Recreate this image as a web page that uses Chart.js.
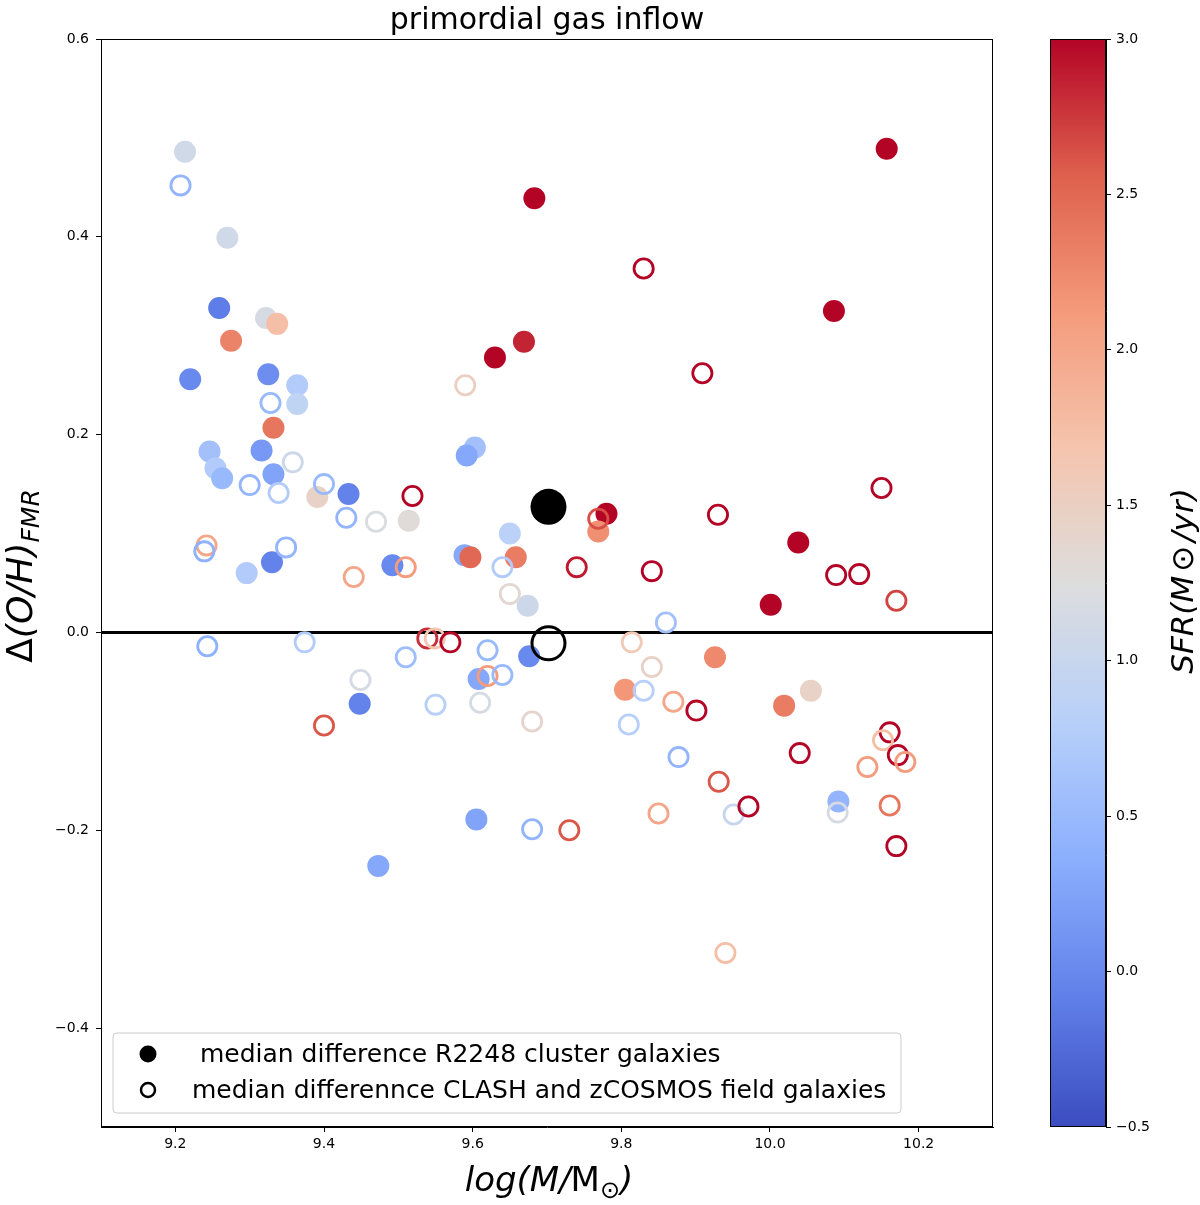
<!DOCTYPE html>
<html><head><meta charset="utf-8">
<script src="https://cdn.jsdelivr.net/npm/chart.js@4.4.1/dist/chart.umd.min.js"></script>
<style>
html,body{margin:0;padding:0;background:#fff;overflow:hidden;width:1200px;height:1205px}
#main{position:absolute;left:0;top:0}
#cbar{position:absolute;left:1000px;top:0}
</style></head><body>
<canvas id="main" width="1200" height="1205"></canvas>
<canvas id="cbar" width="200" height="1205"></canvas>
<script>
// ---- data ----
const clusterMass  = [9.213,9.270,9.259,9.322,9.337,9.275,9.220,9.325,9.364,9.364,9.332,9.316,9.246,9.254,9.263,9.332,9.391,9.433,9.514,9.296,9.330,9.492,9.589,9.597,9.603,9.592,9.650,9.658,9.674,9.676,9.608,9.683,9.630,9.669,9.780,9.769,9.448,9.605,9.473,10.157,10.086,10.038,10.001,9.805,9.926,10.055,10.019,10.092];
const clusterDelta = [0.486,0.399,0.328,0.318,0.312,0.295,0.256,0.261,0.250,0.231,0.207,0.184,0.183,0.166,0.156,0.160,0.137,0.140,0.113,0.060,0.071,0.068,0.078,0.076,0.187,0.179,0.100,0.076,0.027,-0.024,-0.047,0.439,0.278,0.294,0.120,0.102,-0.072,-0.189,-0.236,0.489,0.325,0.091,0.028,-0.058,-0.025,-0.059,-0.074,-0.171];
const clusterSFR   = [1.1,1.1,-0.1,1.15,1.75,2.3,0.0,0.05,0.75,0.9,2.4,0.15,0.6,0.75,0.5,0.25,1.45,-0.05,1.3,0.75,-0.05,0.0,0.3,2.5,0.6,0.3,0.85,2.35,1.05,0.0,0.3,3.0,3.0,2.85,3.0,2.2,-0.05,0.25,0.3,3.0,3.0,3.0,3.0,2.15,2.25,1.45,2.35,0.45];

const fieldMass  = [9.207,9.328,9.358,9.300,9.339,9.400,9.430,9.470,9.242,9.239,9.349,9.440,9.243,9.374,9.449,9.400,9.519,9.510,9.590,9.640,9.650,9.769,9.740,9.841,9.860,9.539,9.549,9.570,9.510,9.620,9.814,9.841,9.620,9.640,9.550,9.610,9.680,9.830,9.810,9.870,9.877,9.680,9.730,9.850,9.901,10.040,9.931,10.131,10.091,9.951,9.971,10.161,10.152,10.172,10.182,10.161,10.170,9.940,9.830,9.909,10.150,9.930,10.089,10.120,10.170];
const fieldDelta = [0.452,0.232,0.172,0.149,0.141,0.150,0.116,0.112,0.088,0.082,0.086,0.056,-0.014,-0.010,-0.048,-0.094,0.138,0.066,0.250,0.066,0.039,0.115,0.066,0.062,0.010,-0.006,-0.006,-0.010,-0.025,-0.018,-0.010,-0.035,-0.044,-0.043,-0.073,-0.071,-0.090,-0.059,-0.093,-0.070,-0.126,-0.199,-0.200,-0.183,-0.079,-0.122,-0.151,-0.136,-0.182,-0.184,-0.176,-0.101,-0.109,-0.124,-0.131,-0.175,-0.216,-0.324,0.368,0.262,0.146,0.119,0.058,0.059,0.032];
const fieldSFR   = [0.45,0.5,1.05,0.45,0.75,0.5,0.45,1.2,2.0,0.4,0.45,2.0,0.4,0.75,1.15,2.6,3.0,2.1,1.5,0.75,1.35,2.65,2.9,3.0,0.6,2.8,1.65,3.0,0.55,0.5,1.6,1.45,2.1,0.5,0.8,1.15,1.4,0.8,0.8,2.0,0.45,0.45,2.6,2.0,3.0,3.0,2.6,2.1,1.15,1.0,3.0,3.0,1.75,3.0,2.1,2.4,3.0,1.75,3.0,3.0,3.0,3.0,3.0,3.0,2.7];

const medianMass    = [9.702];
const medianCluster = [0.127];
const medianField   = [-0.011];
const zeroLineX     = [9.1, 10.3];

const xTicks  = [9.2, 9.4, 9.6, 9.8, 10.0, 10.2];
const yTicks  = [-0.4, -0.2, 0.0, 0.2, 0.4, 0.6];
const cbTicks = [-0.5, 0.0, 0.5, 1.0, 1.5, 2.0, 2.5, 3.0];
const xRange  = [9.1, 10.3];
const yRange  = [-0.5, 0.6];
const sfrRange = [-0.5, 3.0];

const titleText = 'primordial gas inflow';
const legendLabels = [' median difference R2248 cluster galaxies', 'median differennce CLASH and zCOSMOS field galaxies'];

// ---- coolwarm colormap ----
const cwStops = [[59,76,192],[98,130,234],[141,176,254],[184,208,249],[221,221,221],[245,196,173],[244,154,123],[222,96,77],[180,4,38]];
function coolwarm(t){
  t = Math.max(0, Math.min(1, t));
  const p = t*(cwStops.length-1); const i = Math.min(Math.floor(p), cwStops.length-2); const f = p-i;
  const a = cwStops[i], b = cwStops[i+1];
  return 'rgb(' + a.map((v,k)=>Math.round(v+(b[k]-v)*f)).join(',') + ')';
}
const sfrColor = s => coolwarm((s-sfrRange[0])/(sfrRange[1]-sfrRange[0]));
const fmt = v => (v < 0 ? '\u2212' : '') + Math.abs(v).toFixed(1);
const zip = (xs, ys) => xs.map((x,i)=>({x:x, y:ys[i]}));

const FONT = '"DejaVu Sans", sans-serif';
Chart.defaults.font.family = FONT;
Chart.defaults.color = '#000';

function axisCommon(min, max, ticks){
  return {
    type:'linear', min:min, max:max,
    afterBuildTicks: s => { s.ticks = ticks.map(v=>({value:v})); },
    ticks:{ font:{size:14, family:FONT}, color:'#000', callback: v => fmt(v), autoSkip:false, maxRotation:0 },
    grid:{ display:true, drawOnChartArea:false, drawTicks:true, tickLength:5, color:'#000', lineWidth:1 },
    border:{ display:true, color:'#000', width:1 }
  };
}

const frame = {
  id:'frame',
  afterDraw(chart){
    const {ctx, chartArea:a} = chart;
    ctx.save();
    ctx.strokeStyle = '#000'; ctx.lineWidth = 1;
    ctx.strokeRect(a.left+0.5, a.top+0.5, a.right-a.left-1, a.bottom-a.top-1);
    ctx.restore();
  }
};

function drawParts(ctx, parts, cx, baseY){
  let w = 0;
  parts.forEach(p=>{ ctx.font=p.f; p.w = ctx.measureText(p.t).width + (p.gap||0)*2; w += p.w; });
  let x = cx - w/2;
  ctx.textAlign='left'; ctx.textBaseline='alphabetic';
  parts.forEach(p=>{ ctx.font=p.f; ctx.fillText(p.t, x + (p.gap||0), baseY + p.dy); x += p.w; });
}

const texts = {
  id:'texts',
  afterDraw(chart){
    const {ctx, chartArea:a} = chart;
    ctx.save();
    ctx.fillStyle = '#000';
    // title
    ctx.font = '30px ' + FONT; ctx.textAlign = 'center'; ctx.textBaseline = 'alphabetic';
    ctx.fillText(titleText, (a.left+a.right)/2, 29);
    // x label: log(M/M_sun)
    drawParts(ctx, [
      {t:'log(M/', f:'italic 34px '+FONT, dy:0},
      {t:'M', f:'34px '+FONT, dy:0},
      {t:'\u2299', f:'24px '+FONT, dy:7},
      {t:')', f:'italic 34px '+FONT, dy:0}
    ], 549, 1191);
    // y label rotated
    ctx.save();
    ctx.translate(32, 576); ctx.rotate(-Math.PI/2);
    drawParts(ctx, [
      {t:'\u0394', f:'36px '+FONT, dy:0},
      {t:'(O/H)', f:'italic 36px '+FONT, dy:0},
      {t:'FMR', f:'italic 25px '+FONT, dy:7}
    ], 0, 0);
    ctx.restore();
    // legend
    const lx=113, ly=1033, lw=788, lh=80, r=4;
    ctx.beginPath();
    ctx.moveTo(lx+r,ly); ctx.lineTo(lx+lw-r,ly); ctx.quadraticCurveTo(lx+lw,ly,lx+lw,ly+r);
    ctx.lineTo(lx+lw,ly+lh-r); ctx.quadraticCurveTo(lx+lw,ly+lh,lx+lw-r,ly+lh);
    ctx.lineTo(lx+r,ly+lh); ctx.quadraticCurveTo(lx,ly+lh,lx,ly+lh-r);
    ctx.lineTo(lx,ly+r); ctx.quadraticCurveTo(lx,ly,lx+r,ly); ctx.closePath();
    ctx.fillStyle='rgba(255,255,255,0.8)'; ctx.fill();
    ctx.strokeStyle='#cccccc'; ctx.lineWidth=1; ctx.stroke();
    ctx.fillStyle='#000';
    ctx.beginPath(); ctx.arc(148,1054,8.5,0,Math.PI*2); ctx.fill();
    ctx.beginPath(); ctx.arc(148,1090,7,0,Math.PI*2); ctx.strokeStyle='#000'; ctx.lineWidth=2.5; ctx.stroke();
    ctx.font='25px '+FONT; ctx.textAlign='left'; ctx.textBaseline='middle';
    ctx.fillText(legendLabels[0], 192, 1055);
    ctx.fillText(legendLabels[1], 192, 1091);
    ctx.restore();
  }
};

const xAxis = axisCommon(xRange[0], xRange[1], xTicks);
xAxis.afterFit = s => { s.height = 78; };
xAxis.ticks.padding = 4;
const yAxis = axisCommon(yRange[0], yRange[1], yTicks);
yAxis.afterFit = s => { s.width = 101; };
yAxis.ticks.padding = 7;

new Chart(document.getElementById('main'), {
  type:'scatter',
  data:{ datasets:[
    { type:'line', data: zip(zeroLineX, [0,0]), borderColor:'#000', borderWidth:3, pointRadius:0, order:10 },
    { data: zip(clusterMass, clusterDelta), backgroundColor: clusterSFR.map(sfrColor), borderWidth:0, pointRadius:11, order:5 },
    { data: zip(fieldMass, fieldDelta), backgroundColor:'rgba(0,0,0,0)', borderColor: fieldSFR.map(sfrColor), borderWidth:2.8, pointRadius:9.6, order:4 },
    { data: zip(medianMass, medianField), backgroundColor:'rgba(0,0,0,0)', borderColor:'#000', borderWidth:3, pointRadius:16.5, order:2 },
    { data: zip(medianMass, medianCluster), backgroundColor:'#000', borderWidth:0, pointRadius:18, order:1 }
  ]},
  options:{
    responsive:false, animation:false, devicePixelRatio:1,
    events:[],
    layout:{ padding:{ left:0, top:39, right:207, bottom:0 } },
    plugins:{ legend:{display:false}, tooltip:{enabled:false}, title:{display:false} },
    scales:{ x: xAxis, y: yAxis }
  },
  plugins:[frame, texts]
});

// ---- colorbar ----
const cbY = axisCommon(sfrRange[0], sfrRange[1], cbTicks);
cbY.position = 'right';
cbY.afterFit = s => { s.width = 94; };
cbY.ticks.padding = 5;

const cbText = {
  id:'cbText',
  afterDraw(chart){
    const ctx = chart.ctx;
    ctx.save();
    ctx.fillStyle='#000';
    ctx.translate(193, 581); ctx.rotate(-Math.PI/2);
    drawParts(ctx, [
      {t:'SFR(M', f:'italic 31px '+FONT, dy:0},
      {t:'\u2299', f:'italic 31px '+FONT, dy:0, gap:4},
      {t:'/yr)', f:'italic 31px '+FONT, dy:0}
    ], 0, 0);
    ctx.restore();
  }
};

new Chart(document.getElementById('cbar'), {
  type:'bar',
  data:{ labels:['SFR'], datasets:[{
    data:[sfrRange],
    barPercentage:1, categoryPercentage:1, borderWidth:0, borderSkipped:false,
    backgroundColor: c => {
      const ca = c.chart.chartArea; if(!ca) return '#ccc';
      const g = c.chart.ctx.createLinearGradient(0, ca.bottom, 0, ca.top);
      cwStops.forEach((s,i)=> g.addColorStop(i/(cwStops.length-1), 'rgb('+s.join(',')+')'));
      return g;
    }
  }]},
  options:{
    responsive:false, animation:false, devicePixelRatio:1, events:[],
    layout:{ padding:{ left:50, top:39, right:0, bottom:78 } },
    plugins:{ legend:{display:false}, tooltip:{enabled:false} },
    scales:{ x:{ display:false }, y: cbY }
  },
  plugins:[frame, cbText]
});
</script>
</body></html>
